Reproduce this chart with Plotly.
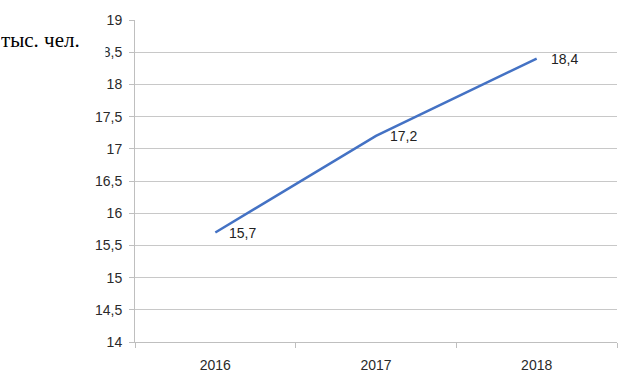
import plotly.graph_objects as go

years = ["2016", "2017", "2018"]
values = [15.7, 17.2, 18.4]
value_labels = ["15,7", "17,2", "18,4"]
y_ticks = [14, 14.5, 15, 15.5, 16, 16.5, 17, 17.5, 18, 18.5, 19]
y_tick_text = ["14", "14,5", "15", "15,5", "16", "16,5", "17", "17,5", "18", "18,5", "19"]
unit_label = "тыс. чел."

fig = go.Figure()
fig.add_trace(go.Scatter(
    x=years, y=values, mode="lines",
    line=dict(color="#4472C4", width=2.5),
    hoverinfo="skip", showlegend=False,
))

for i, (y, t) in enumerate(zip(values, value_labels)):
    fig.add_annotation(
        x=i, y=y, text=t, showarrow=False, xanchor="left", yanchor="middle",
        xshift=12, font=dict(family="Liberation Sans", size=14, color="#222222"),
    )

fig.add_annotation(
    xref="paper", yref="paper", x=-0.28, y=0.938, text=unit_label, showarrow=False,
    xanchor="left", yanchor="middle", align="left", width=104, height=44, valign="middle",
    font=dict(family="Liberation Serif", size=21, color="black"),
    bgcolor="white", borderpad=0,
)

fig.update_layout(
    width=633, height=387,
    margin=dict(l=135, r=16, t=20, b=45),
    paper_bgcolor="white", plot_bgcolor="white",
    xaxis=dict(
        type="category", range=[-0.5, 2.5], tickson="boundaries",
        ticks="outside", ticklen=5, tickcolor="#bfbfbf",
        showgrid=False, showline=True, linecolor="#bfbfbf", linewidth=1,
        tickfont=dict(family="Liberation Sans", size=14, color="#2a2a2a"),
        zeroline=False, ticklabelstandoff=10,
    ),
    yaxis=dict(
        range=[14, 19], tickvals=y_ticks, ticktext=y_tick_text,
        ticks="outside", ticklen=5, tickcolor="#bfbfbf",
        showgrid=True, gridcolor="#c8c8c8", gridwidth=1.2,
        showline=True, linecolor="#bfbfbf", linewidth=1,
        tickfont=dict(family="Liberation Sans", size=14, color="#2a2a2a"),
        zeroline=False, ticklabelstandoff=4,
    ),
)

fig.write_html("out.html", config={"displayModeBar": False},
               post_script="document.body.style.margin='0';")
